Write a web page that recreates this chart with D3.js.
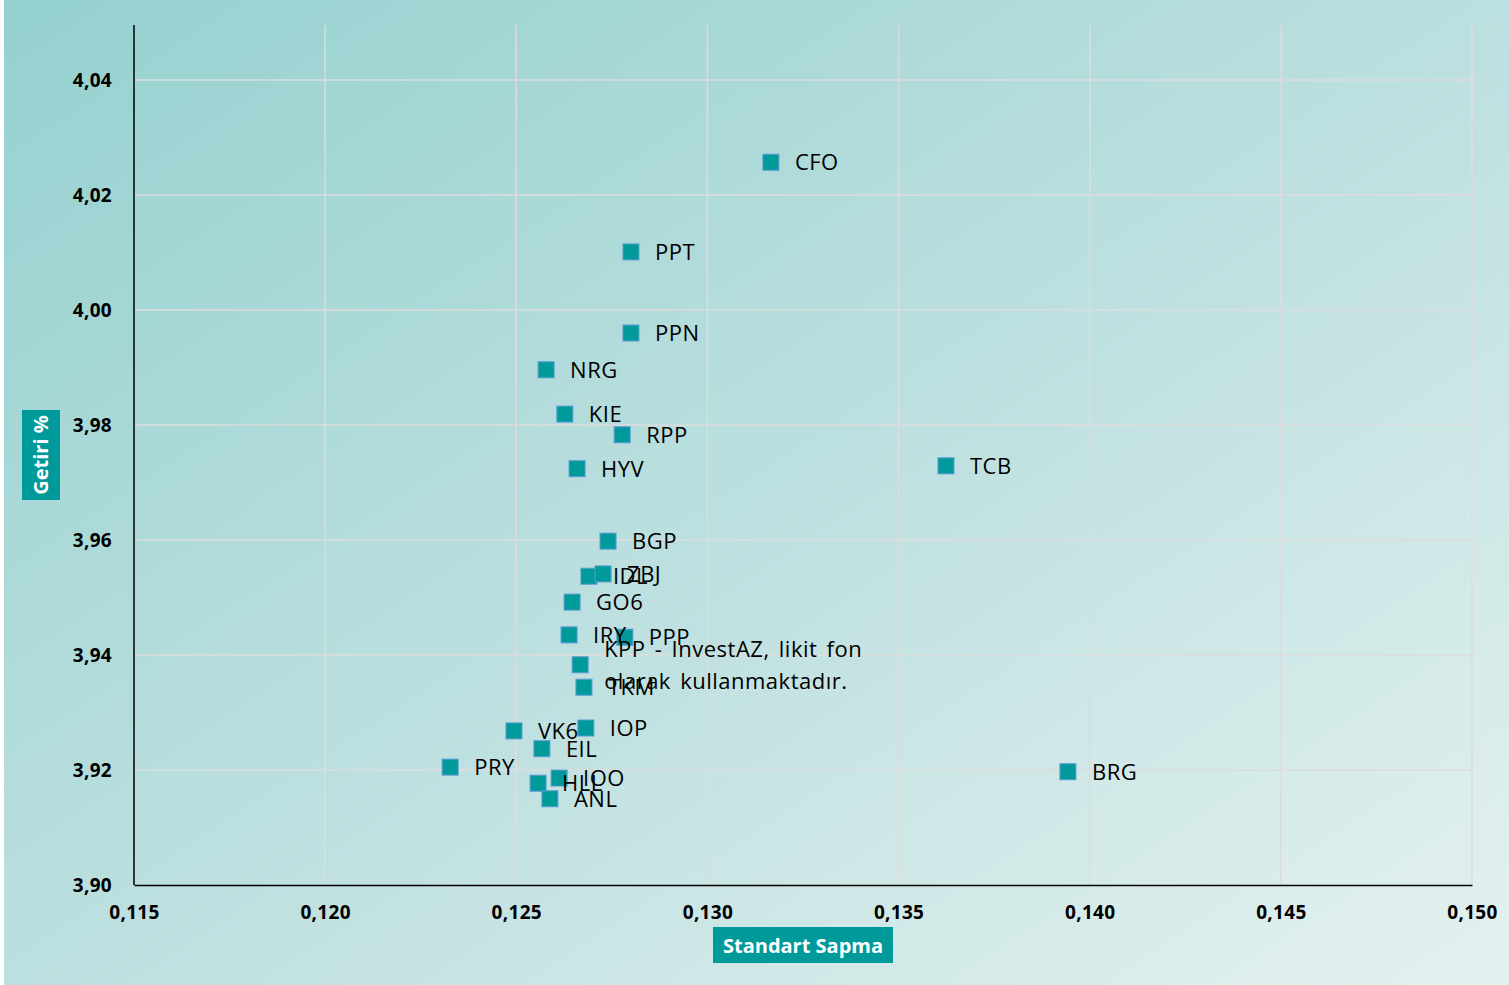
<!DOCTYPE html>
<html>
<head>
<meta charset="utf-8">
<script src="https://cdn.jsdelivr.net/npm/d3@7/dist/d3.min.js"></script>
<style>
  body { margin: 0; background: #fff; }
  svg { display: block; }
</style>
</head>
<body>
<svg id="svg" width="1509" height="985"></svg>
<script>
// fund codes, std deviation (x) and return % (y)
const funds = ["CFO", "PPT", "PPN", "NRG", "KIE", "RPP", "HYV", "TCB", "BGP", "IDL", "ZBJ",
               "GO6", "IRY", "PPP", "KPP - InvestAZ, likit fon\nolarak kullanmaktadır.", "TKM", "IOP", "VK6", "EIL",
               "PRY", "IOO", "HLL", "ANL", "BRG"];
const sapma = [0.13166, 0.12800, 0.12800, 0.12578, 0.12627, 0.12777, 0.12659, 0.13624, 0.12740, 0.12690, 0.12727,
               0.12646, 0.12638, 0.12784, 0.12667, 0.12677, 0.12682, 0.12494, 0.12567,
               0.12327, 0.12612, 0.12557, 0.12588, 0.13943];
const getiri = [4.0257, 4.0101, 3.9960, 3.9896, 3.9819, 3.9783, 3.9724, 3.9729, 3.9598, 3.9537, 3.9541,
                3.9492, 3.9435, 3.9431, 3.9383, 3.9344, 3.9273, 3.9268, 3.9237,
                3.9205, 3.9186, 3.9177, 3.9150, 3.9197];
const xTicks = [0.115, 0.120, 0.125, 0.130, 0.135, 0.140, 0.145, 0.150];
const yTicks = [3.90, 3.92, 3.94, 3.96, 3.98, 4.00, 4.02, 4.04];

const svg = d3.select("#svg");
const W = 1509, H = 985;

// background gradient
const defs = svg.append("defs");
const grad = defs.append("linearGradient").attr("id", "bg")
  .attr("x1", "0%").attr("y1", "0%").attr("x2", "100%").attr("y2", "100%");
grad.append("stop").attr("offset", "0%").attr("stop-color", "#94d1cf");
grad.append("stop").attr("offset", "50%").attr("stop-color", "#bcdfdf");
grad.append("stop").attr("offset", "100%").attr("stop-color", "#e4f1f0");
svg.append("rect").attr("x", 4).attr("y", 0).attr("width", W - 4).attr("height", H).attr("fill", "url(#bg)");

const pL = 134, pR = 1472, pT = 25, pB = 885;
const x = d3.scaleLinear().domain([0.115, 0.150]).range([pL, pR]);
const y = d3.scaleLinear().domain([3.90, 4.04]).range([pB, 80]);

const fmtX = d => d3.format(".3f")(d).replace(".", ",");
const fmtY = d => d3.format(".2f")(d).replace(".", ",");

// gridlines
svg.append("g").selectAll("line").data(xTicks.slice(1)).join("line")
  .attr("x1", d => x(d)).attr("x2", d => x(d)).attr("y1", pT).attr("y2", pB)
  .attr("stroke", "#dcdcdc").attr("stroke-width", 1.5);
svg.append("g").selectAll("line").data(yTicks.slice(1)).join("line")
  .attr("x1", pL).attr("x2", pR).attr("y1", d => y(d)).attr("y2", d => y(d))
  .attr("stroke", "#dcdcdc").attr("stroke-width", 1.5);

// axes
const xAxis = svg.append("g").attr("transform", `translate(0,${pB})`)
  .call(d3.axisBottom(x).tickValues(xTicks).tickFormat(fmtX).tickSize(0).tickPadding(21));
const yAxis = svg.append("g").attr("transform", `translate(${pL},0)`)
  .call(d3.axisLeft(y).tickValues(yTicks).tickFormat(fmtY).tickSize(0).tickPadding(22));
yAxis.select(".domain").attr("d", `M0,${pT}V${pB}`);
[xAxis, yAxis].forEach(a => {
  a.select(".domain").attr("stroke", "#000").attr("stroke-width", 1.5);
  a.selectAll("text").attr("font-family", "Open Sans, sans-serif").attr("font-size", 19)
    .attr("font-weight", "bold").attr("letter-spacing", 0.3).attr("fill", "#000");
});

// points
const pts = svg.append("g");
pts.selectAll("rect").data(funds).join("rect")
  .attr("x", (d, i) => x(sapma[i]) - 8).attr("y", (d, i) => y(getiri[i]) - 8)
  .attr("width", 16).attr("height", 16)
  .attr("fill", "#009a9a").attr("stroke", "#5b9bd5").attr("stroke-width", 1);

// labels
const lab = svg.append("g").attr("font-family", "Open Sans, sans-serif").attr("font-size", 22)
  .attr("letter-spacing", 0.5).attr("fill", "#000");
funds.forEach((f, i) => {
  const lines = f.split("\n");
  const t = lab.append("text").attr("x", x(sapma[i]) + 24)
    .attr("y", y(getiri[i]) + 8 - (lines.length - 1) * 16);
  lines.forEach((l, j) => t.append("tspan").attr("x", x(sapma[i]) + 24)
    .attr("dy", j ? 32 : 0).attr("word-spacing", 3).text(l));
});

// axis titles
svg.append("rect").attr("x", 713).attr("y", 927).attr("width", 180).attr("height", 36).attr("fill", "#009a9a");
svg.append("text").attr("x", 803).attr("y", 953).attr("text-anchor", "middle")
  .attr("font-family", "Open Sans, sans-serif").attr("font-size", 20).attr("font-weight", "bold")
  .attr("fill", "#fff").text("Standart Sapma");
svg.append("rect").attr("x", 22).attr("y", 410).attr("width", 38).attr("height", 90).attr("fill", "#009a9a");
svg.append("text").attr("transform", "translate(48,455) rotate(-90)").attr("text-anchor", "middle")
  .attr("font-family", "Open Sans, sans-serif").attr("font-size", 20).attr("font-weight", "bold")
  .attr("fill", "#fff").text("Getiri %");
</script>
</body>
</html>
